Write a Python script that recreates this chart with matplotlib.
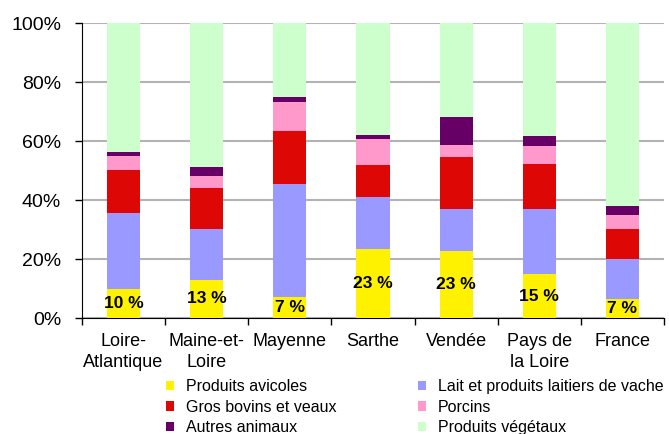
import numpy as np
import matplotlib.pyplot as plt
from matplotlib.patches import Patch

plt.rcParams["font.family"] = ["Liberation Sans", "DejaVu Sans"]

regions = ["Loire-\nAtlantique", "Maine-et-\nLoire", "Mayenne", "Sarthe",
           "Vendée", "Pays de\nla Loire", "France"]

# shares of each product group (%)
avicoles = [9.8, 13.0, 7.2, 23.5, 22.8, 14.8, 6.4]
lait = [25.8, 17.1, 38.1, 17.5, 14.3, 22.1, 13.5]
bovins = [14.7, 14.1, 18.2, 11.0, 17.4, 15.4, 10.4]
porcins = [4.5, 3.8, 9.9, 8.8, 4.0, 6.0, 4.5]
autres = [1.5, 3.1, 1.4, 1.3, 9.7, 3.5, 3.3]
vegetaux = [43.7, 48.9, 25.2, 37.9, 31.8, 38.2, 61.9]
avicoles_labels = ["10 %", "13 %", "7 %", "23 %", "23 %", "15 %", "7 %"]

series = [
    ("Produits avicoles", avicoles, "#FFF200"),
    ("Lait et produits laitiers de vache", lait, "#9999FF"),
    ("Gros bovins et veaux", bovins, "#DD0806"),
    ("Porcins", porcins, "#FF99CC"),
    ("Autres animaux", autres, "#660066"),
    ("Produits végétaux", vegetaux, "#CCFFCC"),
]

fig = plt.figure(figsize=(6.69, 4.34), dpi=100)
ax = fig.add_axes([0.1226, 0.267, 0.8699, 0.68])

x = np.arange(len(regions))
bottom = np.zeros(len(regions))
totals = np.sum([s[1] for s in series], axis=0)
handles = {}
for name, vals, color in series:
    vals = np.array(vals) / totals * 100
    ax.bar(x, vals, 0.4, bottom=bottom, color=color, zorder=3, linewidth=0)
    handles[name] = Patch(facecolor=color, label=name)
    if name == "Produits avicoles":
        for xi, v, lab in zip(x, vals, avicoles_labels):
            ax.text(xi, v / 2, lab, ha="center", va="center",
                    fontsize=12.5, fontweight="bold", zorder=4)
    bottom += vals

ax.set_xlim(-0.5, len(regions) - 0.5)
ax.set_ylim(0, 100)
ax.set_yticks(np.arange(0, 101, 20))
ax.set_yticklabels([f"{v}%" for v in range(0, 101, 20)], fontsize=14)
ax.yaxis.grid(True, color="#B3B3B3", linewidth=1.5, zorder=0)
ax.tick_params(axis="y", length=5, width=1, pad=10)

ax.set_xticks(x)
ax.set_xticklabels(regions, fontsize=13, linespacing=1.3)
ax.set_xticks(np.arange(-0.5, len(regions)), minor=True)
ax.tick_params(axis="x", which="major", length=0, pad=11)
ax.tick_params(axis="x", which="minor", length=5, width=1)

for side in ["top", "right"]:
    ax.spines[side].set_visible(False)

order = ["Produits avicoles", "Gros bovins et veaux", "Autres animaux",
         "Lait et produits laitiers de vache", "Porcins", "Produits végétaux"]
fig.legend([handles[n] for n in order], order, ncol=2, frameon=False,
           loc="upper left", bbox_to_anchor=(0.236, 0.145), fontsize=11.5,
           handlelength=0.5, handleheight=0.56, handletextpad=0.75,
           labelspacing=0.35, columnspacing=5.1, borderpad=0)

fig.savefig("out.png", dpi=100)
